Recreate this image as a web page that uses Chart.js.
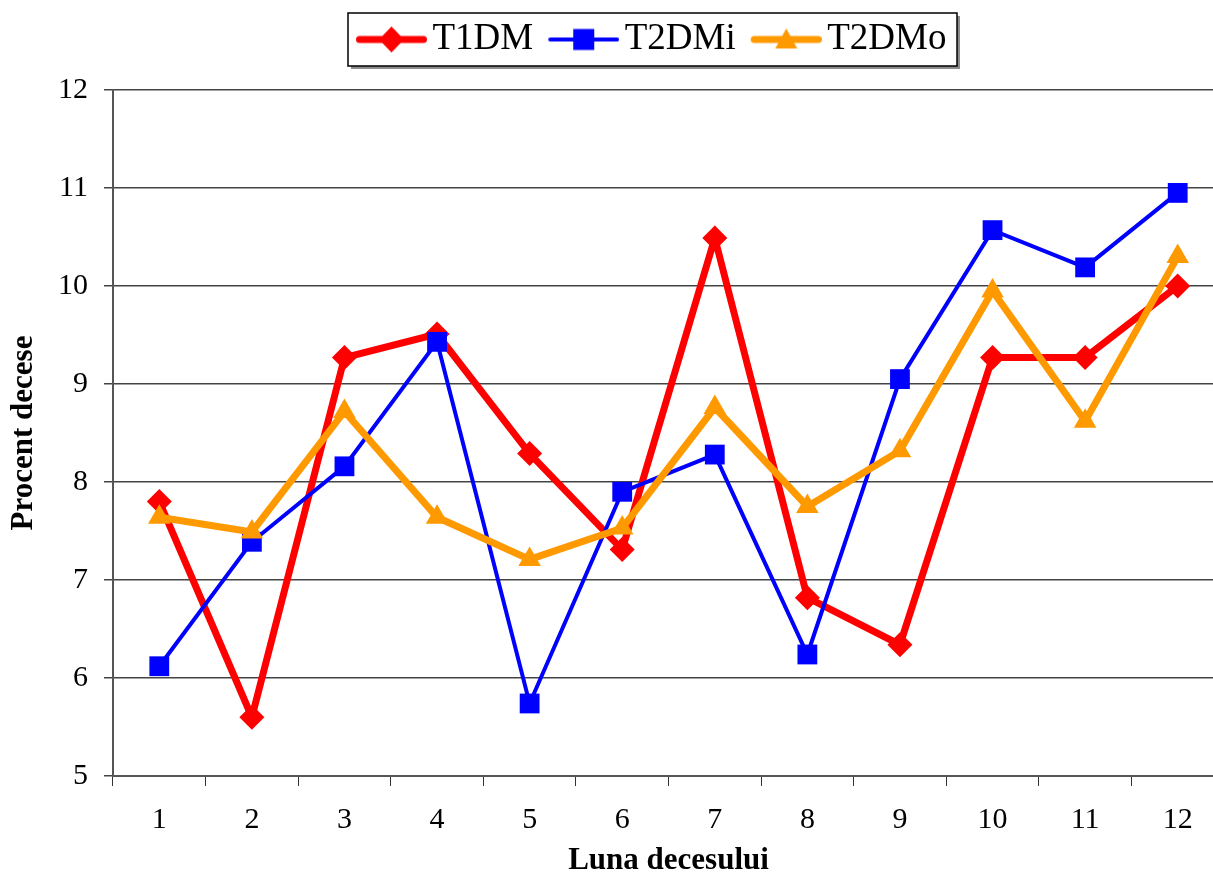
<!DOCTYPE html>
<html>
<head>
<meta charset="utf-8">
<script src="https://cdn.jsdelivr.net/npm/chart.js@4.4.1/dist/chart.umd.min.js"></script>
<style>
  html, body { margin: 0; padding: 0; background: #fff; overflow: hidden; }
  #wrap { width: 1213px; height: 875px; overflow: hidden; }
</style>
</head>
<body>
<div id="wrap"><canvas id="lineChart" width="1224" height="875"></canvas></div>
<script>
var months = ['1', '2', '3', '4', '5', '6', '7', '8', '9', '10', '11', '12'];
var t1dm  = [7.80, 5.60, 9.27, 9.51, 8.29, 7.31, 10.49, 6.82, 6.34, 9.27, 9.27, 10.00];
var t2dmi = [6.12, 7.39, 8.16, 9.43, 5.74, 7.90, 8.28, 6.24, 9.05, 10.57, 10.19, 10.95];
var t2dmo = [7.64, 7.49, 8.72, 7.64, 7.21, 7.53, 8.76, 7.75, 8.32, 9.95, 8.62, 10.30];
var yTicks = [5, 6, 7, 8, 9, 10, 11, 12];

var serif = '"Liberation Serif", "Times New Roman", serif';

// line + marker pictures for the legend (icon sits in x 7..78 of the canvas)
function legendIcon(color, width, shape) {
    var c = document.createElement('canvas');
    c.width = 78; c.height = 32;
    var g = c.getContext('2d');
    var cx = 42.5, cy = 16;
    g.strokeStyle = color;
    g.lineWidth = width;
    g.lineCap = 'round';
    g.beginPath(); g.moveTo(7 + width / 2, cy); g.lineTo(78 - width / 2, cy); g.stroke();
    g.fillStyle = color;
    g.beginPath();
    if (shape === 'diamond') {
        g.moveTo(cx, cy - 13); g.lineTo(cx + 12.5, cy); g.lineTo(cx, cy + 13); g.lineTo(cx - 12.5, cy);
    } else if (shape === 'square') {
        g.rect(cx - 10.5, cy - 10.5, 21, 21);
    } else {
        g.moveTo(cx, cy - 11); g.lineTo(cx + 11, cy + 9); g.lineTo(cx - 11, cy + 9);
    }
    g.closePath(); g.fill();
    return c;
}
var icons = [
    legendIcon('#ff0000', 7, 'diamond'),
    legendIcon('#0000ff', 4, 'square'),
    legendIcon('#ff9900', 7, 'triangle')
];

// move the legend to where the reference has it, then frame it
var legendBox = {
    id: 'legendBox',
    afterLayout: function (chart) {
        var lg = chart.legend;
        var pad = lg.options.labels.padding;
        var x0 = (lg.left + pad + lg.right - lg.lineWidths[0]) / 2;
        var dx = 362 - x0;
        lg.left += dx; lg.right += dx;
        lg.top -= 22; lg.bottom -= 22;
    },
    afterDraw: function (chart) {
        var boxes = chart.legend.legendHitBoxes;
        if (!boxes || !boxes.length) return;
        var l = Infinity, r = -Infinity, t = Infinity, b = -Infinity;
        boxes.forEach(function (h) {
            l = Math.min(l, h.left); r = Math.max(r, h.left + h.width);
            t = Math.min(t, h.top); b = Math.max(b, h.top + h.height);
        });
        var x1 = Math.round(l - 14), x2 = Math.round(r + 11);
        var y1 = Math.round(t - 8), y2 = Math.round(b + 8);
        var ctx = chart.ctx;
        ctx.save();
        ctx.fillStyle = '#8c8c8c';
        ctx.fillRect(x1 + 3, y2, x2 - x1, 3);
        ctx.fillRect(x2, y1 + 3, 3, y2 - y1);
        ctx.strokeStyle = '#000';
        ctx.lineWidth = 1.5;
        ctx.strokeRect(x1, y1, x2 - x1, y2 - y1);
        ctx.restore();
    }
};

var ctx = document.getElementById('lineChart').getContext('2d');
var myChart = new Chart(ctx, {
    type: 'line',
    data: {
        labels: months,
        datasets: [{
            label: 'T1DM',
            data: t1dm,
            order: 2,
            borderColor: '#ff0000',
            backgroundColor: '#ff0000',
            borderWidth: 7,
            pointStyle: 'rectRot',
            pointRadius: 12.5,
            pointBorderWidth: 0,
            tension: 0
        }, {
            label: 'T2DMi',
            data: t2dmi,
            order: 1,
            borderColor: '#0000ff',
            backgroundColor: '#0000ff',
            borderWidth: 4,
            pointStyle: 'rect',
            pointRadius: 14,
            pointBorderWidth: 0,
            tension: 0
        }, {
            label: 'T2DMo',
            data: t2dmo,
            order: 0,
            borderColor: '#ff9900',
            backgroundColor: '#ff9900',
            borderWidth: 7,
            pointStyle: 'triangle',
            pointRadius: 13,
            pointBorderWidth: 0,
            tension: 0
        }]
    },
    options: {
        responsive: false,
        animation: false,
        layout: { autoPadding: false, padding: { top: 22, left: 8, right: 0, bottom: 0 } },
        plugins: {
            tooltip: { enabled: false },
            legend: {
                position: 'top',
                labels: {
                    usePointStyle: true,
                    pointStyleWidth: 52,
                    color: '#000',
                    font: { family: serif, size: 37 },
                    padding: 21,
                    generateLabels: function (chart) {
                        return chart.data.datasets.map(function (ds, i) {
                            return {
                                text: ds.label,
                                pointStyle: icons[i],
                                fillStyle: ds.borderColor,
                                strokeStyle: ds.borderColor,
                                lineWidth: 0,
                                fontColor: '#000',
                                datasetIndex: i
                            };
                        });
                    }
                }
            }
        },
        scales: {
            x: {
                offset: true,
                grid: {
                    offset: true,
                    drawOnChartArea: false,
                    drawTicks: true,
                    tickLength: 10,
                    color: '#333',
                    lineWidth: 1
                },
                border: { color: '#555', width: 2 },
                ticks: { color: '#000', font: { family: serif, size: 30, lineHeight: 1 }, padding: 19 },
                title: {
                    display: true,
                    text: 'Luna decesului',
                    color: '#000',
                    font: { family: serif, size: 31, weight: 'bold', lineHeight: '14px' },
                    padding: { top: 0, bottom: 7 }
                }
            },
            y: {
                min: 5,
                max: 12,
                afterBuildTicks: function (axis) {
                    axis.ticks = yTicks.map(function (v) { return { value: v }; });
                },
                grid: {
                    color: '#444',
                    lineWidth: 1.5,
                    drawTicks: true,
                    tickLength: 9
                },
                border: { color: '#555', width: 2 },
                ticks: { color: '#000', font: { family: serif, size: 30, lineHeight: 1 }, padding: 16 },
                title: {
                    display: true,
                    text: 'Procent decese',
                    color: '#000',
                    font: { family: serif, size: 31, weight: 'bold', lineHeight: 1 },
                    padding: { top: 0, bottom: 3 }
                }
            }
        }
    },
    plugins: [legendBox]
});
</script>
</body>
</html>
